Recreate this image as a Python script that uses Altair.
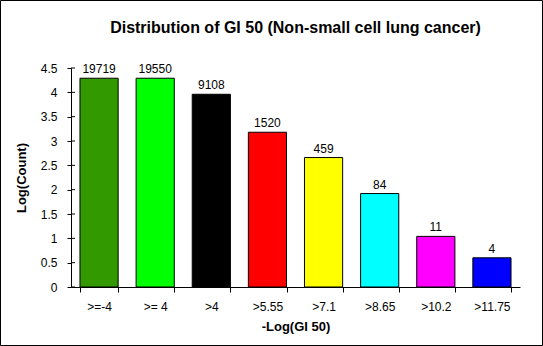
import altair as alt
import pandas as pd

categories = [">=-4", ">= 4", ">4", ">5.55", ">7.1", ">8.65", ">10.2", ">11.75"]
counts = [19719, 19550, 9108, 1520, 459, 84, 11, 4]
log_counts = [4.29, 4.29, 3.96, 3.18, 2.66, 1.92, 1.04, 0.60]
colors = ["#339900", "#00FF00", "#000000", "#FF0000", "#FFFF00", "#00FFFF", "#FF00FF", "#0000FF"]
y_ticks = [0, 0.5, 1, 1.5, 2, 2.5, 3, 3.5, 4, 4.5]

df = pd.DataFrame({"cat": categories, "count": counts, "logc": log_counts})
tick_df = pd.DataFrame({"logc": y_ticks})

FONT = "Liberation Sans"

x_axis = alt.Axis(
    title="-Log(GI 50)",
    labelAngle=0,
    tickBand="extent",
    tickSize=5,
    tickColor="black",
    domainColor="black",
    labelPadding=9,
    labelFont=FONT,
    labelFontSize=12,
    labelColor="black",
    titleFont=FONT,
    titleFontSize=13,
    titleFontWeight="bold",
    titleColor="black",
    titleBaseline="alphabetic",
    titleY=43,
)

y_axis = alt.Axis(
    title="Log(Count)",
    values=y_ticks,
    format="~g",
    grid=False,
    labelOverlap=False,
    labelFlush=False,
    tickSize=4,
    tickColor="black",
    domainColor="black",
    labelPadding=10,
    labelFont=FONT,
    labelFontSize=12,
    labelColor="black",
    titleFont=FONT,
    titleFontSize=13,
    titleFontWeight="bold",
    titleColor="black",
    titleX=-50,
    titleY=109.5,
    titleBaseline="middle",
    titleAlign="center",
)

x_enc = alt.X("cat:N", sort=categories,
              scale=alt.Scale(paddingInner=0.32, paddingOuter=0.16), axis=x_axis)
y_enc = alt.Y("logc:Q", scale=alt.Scale(domain=[0, 4.5], nice=False), axis=y_axis)

bars = alt.Chart(df).mark_bar(stroke="black", strokeWidth=1).encode(
    x=x_enc,
    y=y_enc,
    color=alt.Color("cat:N", sort=categories,
                    scale=alt.Scale(domain=categories, range=colors), legend=None),
)

labels = alt.Chart(df).mark_text(
    baseline="alphabetic", dy=-5, font=FONT, fontSize=12, color="black"
).encode(
    x=x_enc,
    y=y_enc,
    text=alt.Text("count:Q", format="d"),
)

right_ticks = alt.Chart(tick_df).mark_rule(
    color="black", strokeWidth=1
).encode(
    y=y_enc,
    x=alt.value(0),
    x2=alt.value(4),
)

border = alt.Chart(pd.DataFrame({"a": [0]})).mark_rect(
    filled=False, stroke="black", strokeWidth=1
).encode(
    x=alt.value(-70.5), x2=alt.value(471.5),
    y=alt.value(-67.5), y2=alt.value(277.5),
)

chart = alt.layer(bars, labels, right_ticks, border).properties(
    width=449,
    height=219,
    background="white",
    padding={"left": 71, "top": 68, "right": 23, "bottom": 59},
    autosize=alt.AutoSizeParams(type="none"),
    title=alt.TitleParams(
        "Distribution of GI 50 (Non-small cell lung cancer)",
        font=FONT, fontSize=16, fontWeight="bold", color="black",
        anchor="middle", baseline="alphabetic", offset=0, dy=49,
    ),
).configure_view(stroke="transparent", strokeWidth=0)

chart.save("out.html", embed_options={"renderer": "svg", "actions": False})
